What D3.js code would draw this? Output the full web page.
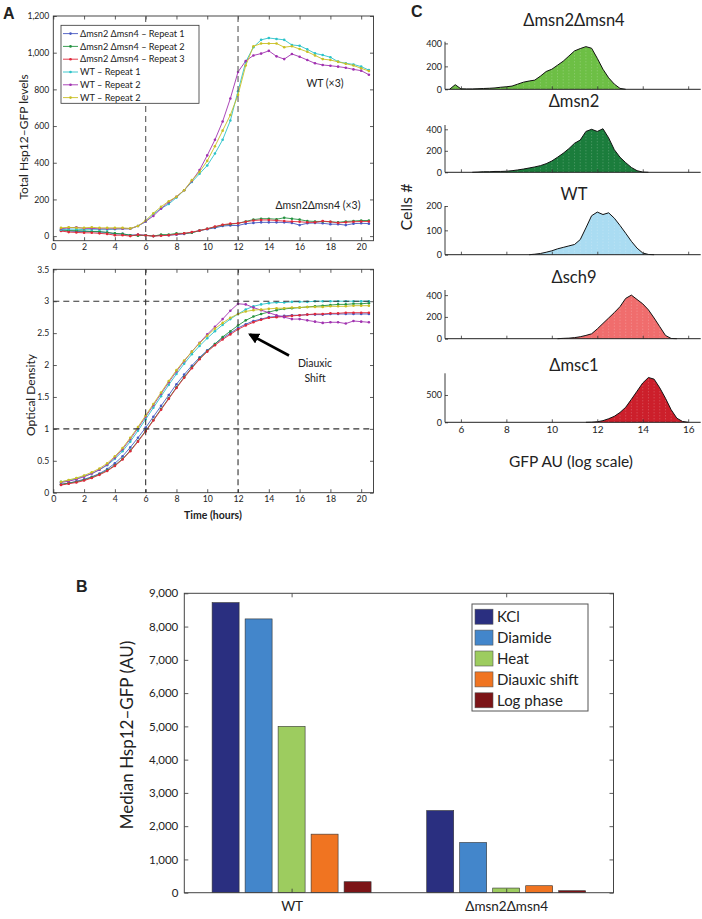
<!DOCTYPE html>
<html><head><meta charset="utf-8">
<script src="https://cdn.jsdelivr.net/npm/d3@7"></script>
<style>
body{margin:0;background:#fff}
svg{display:block}
text{font-family:Lato,"Open Sans",sans-serif;fill:#222}
</style>
</head><body>
<svg id="c" width="702" height="919"></svg>
<script>
// ================= DATA =================
const hours = [0.5,1,1.5,2,2.5,3,3.5,4,4.5,5,5.5,6,6.5,7,7.5,8,8.5,9,9.5,10,10.5,11,11.5,12,12.5,13,13.5,14,14.5,15,15.5,16,16.5,17,17.5,18,18.5,19,19.5,20,20.5];
const hourTicks = [0,2,4,6,8,10,12,14,16,18,20];
const seriesNames = ["\u0394msn2 \u0394msn4 \u2013 Repeat 1","\u0394msn2 \u0394msn4 \u2013 Repeat 2","\u0394msn2 \u0394msn4 \u2013 Repeat 3","WT \u2013 Repeat 1","WT \u2013 Repeat 2","WT \u2013 Repeat 2"];

// Total Hsp12-GFP levels
const hspDeltaR1 = [30,28,25,25,25,22,20,12,12,5,8,5,0,5,5,8,12,20,30,38,45,55,58,58,68,72,75,75,75,75,72,60,70,72,70,65,65,60,68,70,68];
const hspDeltaR2 = [35,30,30,28,25,25,20,15,12,5,2,5,0,8,8,15,15,18,30,40,50,60,65,70,80,90,95,95,92,100,95,90,82,80,80,78,75,80,82,85,85];
const hspDeltaR3 = [28,22,20,18,18,15,12,5,5,0,8,3,0,2,5,10,15,22,30,40,52,62,68,70,78,85,88,88,85,82,80,78,75,75,82,78,72,75,78,80,80];
const hspWtR1 = [35,38,38,35,35,35,35,38,40,40,55,78,120,150,175,210,250,295,340,385,450,525,630,790,950,1030,1070,1080,1075,1070,1042,1038,1018,996,987,975,951,942,936,924,905];
const hspWtR2 = [40,45,48,42,42,40,40,40,40,40,55,80,110,150,185,215,250,300,360,440,525,625,750,895,955,985,995,1010,980,965,993,978,960,942,933,929,924,918,909,902,880];
const hspWtR3 = [45,48,45,45,48,45,45,45,45,42,55,85,125,160,190,215,250,305,350,410,490,575,660,770,930,1035,1050,1050,1050,1030,1035,1020,1005,985,965,960,950,940,930,915,900];

// Optical density
const odDeltaR1 = [.13,.15,.18,.21,.25,.30,.37,.46,.57,.71,.86,1.02,1.19,1.36,1.53,1.70,1.85,1.99,2.12,2.23,2.33,2.42,2.50,2.58,2.64,2.69,2.72,2.75,2.76,2.77,2.78,2.78,2.79,2.79,2.79,2.80,2.80,2.80,2.80,2.80,2.80];
const odDeltaR2 = [.13,.15,.17,.20,.24,.29,.35,.43,.53,.66,.81,.97,1.14,1.31,1.48,1.65,1.81,1.96,2.10,2.22,2.33,2.44,2.53,2.62,2.70,2.76,2.80,2.83,2.86,2.88,2.89,2.90,2.91,2.92,2.93,2.94,2.95,2.95,2.96,2.96,2.97];
const odDeltaR3 = [.12,.14,.16,.19,.23,.28,.34,.42,.52,.65,.80,.96,1.13,1.30,1.47,1.64,1.80,1.95,2.09,2.21,2.31,2.40,2.48,2.56,2.62,2.67,2.71,2.74,2.75,2.76,2.77,2.78,2.79,2.80,2.80,2.81,2.81,2.82,2.82,2.82,2.82];
const odWtR1 = [.17,.19,.22,.26,.30,.36,.43,.53,.65,.80,.97,1.15,1.33,1.51,1.69,1.86,2.02,2.17,2.30,2.42,2.53,2.63,2.72,2.80,2.87,2.92,2.95,2.97,2.98,2.98,2.99,2.99,2.99,3.0,3.0,3.0,3.0,3.0,3.0,3.0,3.0];
const odWtR2 = [.16,.18,.21,.25,.30,.36,.44,.55,.68,.84,1.01,1.19,1.37,1.55,1.73,1.90,2.06,2.21,2.35,2.48,2.60,2.72,2.85,2.96,2.95,2.90,2.86,2.82,2.78,2.75,2.72,2.72,2.70,2.68,2.66,2.67,2.67,2.65,2.69,2.68,2.67];
const odWtR3 = [.17,.20,.23,.27,.32,.38,.46,.57,.70,.86,1.03,1.21,1.39,1.57,1.75,1.92,2.07,2.21,2.34,2.46,2.57,2.66,2.74,2.80,2.84,2.86,2.87,2.88,2.89,2.89,2.90,2.90,2.91,2.91,2.91,2.92,2.92,2.92,2.93,2.93,2.93];

// Panel C histograms (GFP AU, log scale)
const gfpBins = [5.50,5.75,6.00,6.25,6.50,6.75,7.00,7.25,7.50,7.75,8.00,8.25,8.50,8.75,9.00,9.25,9.50,9.75,10.00,10.25,10.50,10.75,11.00,11.25,11.50,11.75,12.00,12.25,12.50,12.75,13.00,13.25,13.50,13.75,14.00,14.25,14.50,14.75,15.00,15.25,15.50,15.75,16.00];
const strainNames = ["\u0394msn2\u0394msn4","\u0394msn2","WT","\u0394sch9","\u0394msc1"];
const cntMsn2Msn4 = [0,40,4,3,3,5,7,9,12,18,22,28,45,62,72,80,115,155,175,210,245,290,335,355,372,358,270,175,100,45,8,0,0,0,0,0,0,0,0,0,0,0,0];
const cntMsn2 = [0,0,0,0,0,2,5,5,8,8,10,15,22,30,40,50,62,80,105,140,177,220,270,300,380,400,380,405,320,210,140,90,45,15,2,0,0,0,0,0,0,0,0];
const cntWt = [0,0,0,0,0,0,0,0,0,0,0,0,0,0,0,2,5,10,16,24,30,36,42,62,110,160,175,165,172,150,120,88,55,27,7,1,0,0,0,0,0,0,0];
const cntSch9 = [0,0,0,0,0,0,0,0,0,0,0,0,0,0,0,0,0,0,0,0,3,5,10,18,30,45,90,140,190,240,294,370,400,360,320,265,190,110,30,2,0,0,0];
const cntMsc1 = [0,0,0,0,0,0,0,0,0,0,0,0,0,0,0,0,0,0,0,0,0,0,0,0,0,2,10,30,65,110,180,275,420,570,720,820,790,630,440,230,75,15,0];
const histYMax = [415,440,200,447,897];
const histYTicks = [[0,200,400],[0,200,400],[0,100,200],[0,200,400],[0,500]];
const gfpTicks = [6,8,10,12,14,16];

// Panel B bars
const groups = ["WT","\u0394msn2\u0394msn4"];
const conditions = ["KCl","Diamide","Heat","Diauxic shift","Log phase"];
const medWT = [8720,8230,5000,1760,330];
const medDelta = [2470,1510,140,210,60];
const medTicks = [0,1000,2000,3000,4000,5000,6000,7000,8000,9000];

// ================= STYLE =================
const lineColors = ["#4759c2","#23923f","#e0283a","#2cc3c9","#a132b0","#c9c024"];
const histColors = ["#6dbf45","#1b7d3c","#aadcf2","#f06d6d","#cc1f2b"];
const barColors = ["#2a2f80","#4386cb","#9dcc5f","#f07421","#7c1417"];
const axisCol = "#333";

const svg = d3.select("#c");

function styleAxis(sel, fs){
  sel.select(".domain").remove();
  sel.selectAll(".tick line").attr("stroke", axisCol).attr("stroke-width", 0.8);
  sel.selectAll(".tick text").attr("font-size", fs).attr("fill", "#333");
}

// ================= PANEL A =================
function linePanel(x, y, yTicks, yFmt, seriesList){
  const g = svg.append("g");
  const [xl, xr] = x.range(); const [yb, yt] = y.range();
  g.append("g").attr("transform", `translate(0,${yb})`)
    .call(d3.axisBottom(x).tickValues(hourTicks).tickSizeInner(-3.5).tickSizeOuter(0).tickPadding(3).tickFormat(d3.format("d")))
    .call(s => styleAxis(s, 8.8));
  g.append("g").attr("transform", `translate(0,${yt})`)
    .call(d3.axisTop(x).tickValues(hourTicks).tickSizeInner(-3.5).tickSizeOuter(0).tickFormat(""))
    .call(s => styleAxis(s, 9));
  g.append("g").attr("transform", `translate(${xl},0)`)
    .call(d3.axisLeft(y).tickValues(yTicks).tickSizeInner(-3.5).tickSizeOuter(0).tickPadding(4).tickFormat(yFmt))
    .call(s => styleAxis(s, 8.6));
  g.append("g").attr("transform", `translate(${xr},0)`)
    .call(d3.axisRight(y).tickValues(yTicks).tickSizeInner(-3.5).tickSizeOuter(0).tickFormat(""))
    .call(s => styleAxis(s, 9));
  g.append("rect").attr("x", xl).attr("y", yt).attr("width", xr - xl).attr("height", yb - yt)
    .attr("fill", "none").attr("stroke", axisCol).attr("stroke-width", 0.9);
  const lg = d3.line().x((d, i) => x(hours[i])).y(d => y(d));
  seriesList.forEach((vals, k) => {
    const s = g.append("g");
    s.append("path").attr("d", lg(vals)).attr("fill", "none").attr("stroke", lineColors[k]).attr("stroke-width", 0.9);
    s.selectAll("circle").data(vals).join("circle")
      .attr("cx", (d, i) => x(hours[i])).attr("cy", d => y(d)).attr("r", 1.3).attr("fill", lineColors[k]);
  });
  return g;
}

const xTop = d3.scaleLinear([0, 20.8], [53.3, 373.5]);
const yTop = d3.scaleLinear([-25, 1200], [240.7, 16]);
const gTop = linePanel(xTop, yTop, [0,200,400,600,800,1000,1200], d3.format(","),
  [hspDeltaR1, hspDeltaR2, hspDeltaR3, hspWtR1, hspWtR2, hspWtR3]);
[6, 12].forEach(h => gTop.append("line").attr("x1", xTop(h)).attr("x2", xTop(h)).attr("y1", yTop(1200)).attr("y2", yTop(-25))
  .attr("stroke", "#666").attr("stroke-width", 1.2).attr("stroke-dasharray", "6,4"));
{
  const lgx = 61, lgy = 25.3;
  const L = gTop.append("g");
  L.append("rect").attr("x", lgx).attr("y", lgy).attr("width", 138).attr("height", 78)
    .attr("fill", "#fff").attr("stroke", axisCol).attr("stroke-width", 0.8);
  seriesNames.forEach((n, k) => {
    const cy = lgy + 8.3 + k * 12.8;
    L.append("line").attr("x1", lgx + 2).attr("x2", lgx + 17).attr("y1", cy).attr("y2", cy).attr("stroke", lineColors[k]).attr("stroke-width", 0.9);
    L.append("circle").attr("cx", lgx + 9.5).attr("cy", cy).attr("r", 1.3).attr("fill", lineColors[k]);
    L.append("text").attr("x", lgx + 19).attr("y", cy + 3.2).attr("font-size", 9.2).text(n);
  });
}
gTop.append("text").attr("x", 325).attr("y", 87).attr("text-anchor", "middle").attr("font-size", 10.5).text("WT (\u00d73)");
gTop.append("text").attr("x", 318).attr("y", 209).attr("text-anchor", "middle").attr("font-size", 10.5).text("\u0394msn2\u0394msn4 (\u00d73)");
svg.append("text").attr("transform", "translate(28,137) rotate(-90)").attr("text-anchor", "middle").attr("font-size", 12).text("Total Hsp12\u2013GFP levels");

const xBot = d3.scaleLinear([0, 20.8], [53.3, 373.5]);
const yBot = d3.scaleLinear([0, 3.5], [492.7, 269.3]);
const gBot = linePanel(xBot, yBot, [0,0.5,1,1.5,2,2.5,3,3.5], d => d3.format("")(d),
  [odDeltaR1, odDeltaR2, odDeltaR3, odWtR1, odWtR2, odWtR3]);
[6, 12].forEach(h => gBot.append("line").attr("x1", xBot(h)).attr("x2", xBot(h)).attr("y1", yBot(3.5)).attr("y2", yBot(0))
  .attr("stroke", "#333").attr("stroke-width", 1.1).attr("stroke-dasharray", "6,4"));
[1, 3].forEach(v => gBot.append("line").attr("x1", xBot(0)).attr("x2", xBot(20.8)).attr("y1", yBot(v)).attr("y2", yBot(v))
  .attr("stroke", "#333").attr("stroke-width", 1.1).attr("stroke-dasharray", "6,4"));
svg.append("defs").append("marker").attr("id", "ah").attr("viewBox", "0 0 10 10").attr("refX", 8).attr("refY", 5)
  .attr("markerWidth", 4.2).attr("markerHeight", 4.2).attr("orient", "auto")
  .append("path").attr("d", "M0,0L10,5L0,10z").attr("fill", "#000");
gBot.append("line").attr("x1", 289).attr("y1", 355.5).attr("x2", 250).attr("y2", 334.5)
  .attr("stroke", "#000").attr("stroke-width", 2.6).attr("marker-end", "url(#ah)");
gBot.append("text").attr("x", 315).attr("y", 367).attr("text-anchor", "middle").attr("font-size", 10.5).text("Diauxic");
gBot.append("text").attr("x", 315).attr("y", 382).attr("text-anchor", "middle").attr("font-size", 10.5).text("Shift");
svg.append("text").attr("transform", "translate(35,395) rotate(-90)").attr("text-anchor", "middle").attr("font-size", 12).text("Optical Density");
svg.append("text").attr("x", 213).attr("y", 519).attr("text-anchor", "middle").attr("font-size", 10.5).attr("font-weight", "bold").text("Time (hours)");

// ================= PANEL C =================
const xH = d3.scaleLinear([5.3, 16.55], [445, 700.7]);
const histBottomPx = [89.3, 172.3, 254.7, 338.7, 422.3];
const histTopPx = [41.7, 125, 206, 290, 373.3];
const titleBase = [26, 106.5, 200, 283, 370.7];
const allCounts = [cntMsn2Msn4, cntMsn2, cntWt, cntSch9, cntMsc1];
allCounts.forEach((cnt, k) => {
  const y = d3.scaleLinear([0, histYMax[k]], [histBottomPx[k], histTopPx[k]]);
  const g = svg.append("g");
  const pts = gfpBins.map((b, i) => [b, cnt[i]]);
  let first = cnt.findIndex(v => v > 0), last = cnt.length - 1 - [...cnt].reverse().findIndex(v => v > 0);
  const seg = pts.slice(Math.max(0, first - 1), Math.min(pts.length, last + 2));
  g.append("path").attr("d", d3.area().x(d => xH(d[0])).y0(y(0)).y1(d => y(d[1]))(seg)).attr("fill", histColors[k]);
  g.selectAll("line.bin").data(seg.filter(d => d[1] > 0)).join("line").attr("class", "bin")
    .attr("x1", d => xH(d[0])).attr("x2", d => xH(d[0])).attr("y1", y(0)).attr("y2", d => y(d[1]) + 1)
    .attr("stroke", "#fff").attr("stroke-opacity", 0.45).attr("stroke-width", 0.6).attr("stroke-dasharray", "1,2");
  g.append("path").attr("d", d3.line().x(d => xH(d[0])).y(d => y(d[1]))(seg)).attr("fill", "none").attr("stroke", "#111").attr("stroke-width", 1);
  g.append("g").attr("transform", `translate(0,${histBottomPx[k]})`)
    .call(d3.axisBottom(xH).tickValues(gfpTicks).tickSizeInner(-3).tickSizeOuter(0).tickPadding(4).tickFormat(k === 4 ? d3.format("d") : ""))
    .call(s => styleAxis(s, 10));
  g.append("g").attr("transform", `translate(${xH.range()[0]},0)`)
    .call(d3.axisLeft(y).tickValues(histYTicks[k]).tickSizeInner(-3).tickSizeOuter(0).tickPadding(3))
    .call(s => styleAxis(s, 9));
  g.append("line").attr("x1", xH.range()[0]).attr("x2", xH.range()[1]).attr("y1", histBottomPx[k]).attr("y2", histBottomPx[k]).attr("stroke", "#222").attr("stroke-width", 1);
  g.append("line").attr("x1", xH.range()[0]).attr("x2", xH.range()[0]).attr("y1", histTopPx[k]).attr("y2", histBottomPx[k]).attr("stroke", "#222").attr("stroke-width", 0.9);
  g.append("text").attr("x", 574).attr("y", titleBase[k]).attr("text-anchor", "middle").attr("font-size", 16.5).text(strainNames[k]);
});
svg.append("text").attr("transform", "translate(412,207) rotate(-90)").attr("text-anchor", "middle").attr("font-size", 16).text("Cells #");
svg.append("text").attr("x", 571).attr("y", 467).attr("text-anchor", "middle").attr("font-size", 15.5).text("GFP AU (log scale)");

// ================= PANEL B =================
const xG = d3.scaleBand().domain(groups).range([184.3, 613.5]).padding(0);
const xC = d3.scaleBand().domain(conditions).range([0, xG.bandwidth()]).paddingInner(0.182).paddingOuter(0.843);
const yB = d3.scaleLinear([0, 9000], [892.7, 593.3]);
const gB = svg.append("g");
const barData = [];
groups.forEach((gname, gi) => conditions.forEach((c, ci) => barData.push({g: gname, c, ci, v: (gi === 0 ? medWT : medDelta)[ci]})));
gB.selectAll("rect.bar").data(barData).join("rect").attr("class", "bar")
  .attr("x", d => xG(d.g) + xC(d.c)).attr("width", xC.bandwidth())
  .attr("y", d => yB(d.v)).attr("height", d => yB(0) - yB(d.v))
  .attr("fill", d => barColors[d.ci]).attr("stroke", "#333").attr("stroke-width", 0.6);
const gCenters = groups.map(g => xG(g) + xG.bandwidth() / 2);
const xGl = d3.scalePoint().domain(groups).range(gCenters);
gB.append("g").attr("transform", `translate(0,${yB(0)})`)
  .call(d3.axisBottom(xGl).tickSizeInner(-4).tickSizeOuter(0).tickPadding(9))
  .call(s => styleAxis(s, 13.5));
gB.append("g").attr("transform", `translate(0,${yB(9000)})`)
  .call(d3.axisTop(xGl).tickSizeInner(-4).tickSizeOuter(0).tickFormat(""))
  .call(s => styleAxis(s, 12));
gB.append("g").attr("transform", `translate(184.3,0)`)
  .call(d3.axisLeft(yB).tickValues(medTicks).tickSizeInner(-4).tickSizeOuter(0).tickPadding(6).tickFormat(d3.format(",")))
  .call(s => styleAxis(s, 11.5));
gB.append("g").attr("transform", `translate(613.5,0)`)
  .call(d3.axisRight(yB).tickValues(medTicks).tickSizeInner(-4).tickSizeOuter(0).tickFormat(""))
  .call(s => styleAxis(s, 11));
gB.append("rect").attr("x", 184.3).attr("y", yB(9000)).attr("width", 613.5 - 184.3).attr("height", yB(0) - yB(9000))
  .attr("fill", "none").attr("stroke", "#444").attr("stroke-width", 1);
{
  const L = gB.append("g");
  L.append("rect").attr("x", 472).attr("y", 604).attr("width", 116).attr("height", 107)
    .attr("fill", "#fff").attr("stroke", "#555").attr("stroke-width", 1);
  conditions.forEach((c, i) => {
    const cy = 616.7 + i * 20.9;
    L.append("rect").attr("x", 475).attr("y", cy - 7.5).attr("width", 18).attr("height", 15)
      .attr("fill", barColors[i]).attr("stroke", "#555").attr("stroke-width", 0.6);
    L.append("text").attr("x", 497).attr("y", cy + 5.2).attr("font-size", 15).text(c);
  });
}
svg.append("text").attr("transform", "translate(133,735) rotate(-90)").attr("text-anchor", "middle").attr("font-size", 17).text("Median Hsp12\u2013GFP (AU)");

// panel letters
[["A", 3, 18.5], ["C", 411, 17], ["B", 76, 592]].forEach(([t, x, y]) =>
  svg.append("text").attr("x", x).attr("y", y).attr("font-weight", "bold").attr("font-size", 16).style("font-family", "'Liberation Sans',Arial,sans-serif").text(t));
</script>
</body></html>
